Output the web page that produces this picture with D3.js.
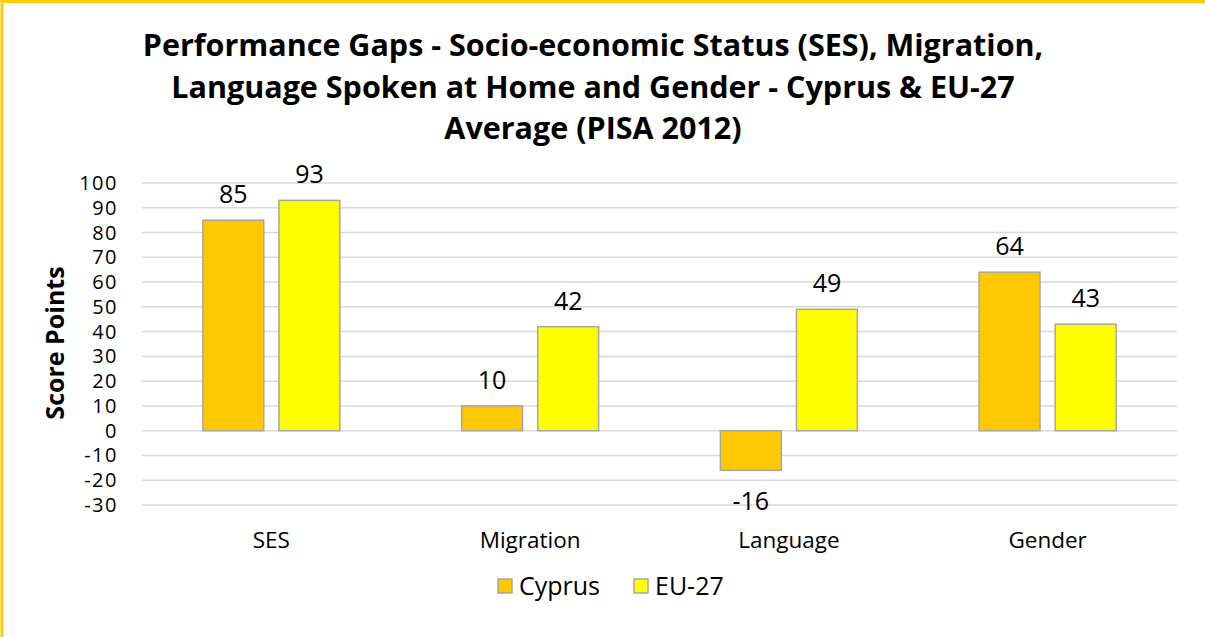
<!DOCTYPE html>
<html>
<head>
<meta charset="utf-8">
<script src="https://cdn.jsdelivr.net/npm/d3@7"></script>
<style>
  body { margin: 0; background: #fff; }
  svg text { font-family: "Open Sans", "Noto Sans", sans-serif; fill: #000; }
</style>
</head>
<body>
<svg id="chart"></svg>
<script>
const categories = ['SES', 'Migration', 'Language', 'Gender'];
const seriesNames = ['Cyprus', 'EU-27'];
const cyprusValues = [85, 10, -16, 64];
const euValues = [93, 42, 49, 43];
const yTicks = [100, 90, 80, 70, 60, 50, 40, 30, 20, 10, 0, -10, -20, -30];
const titleLines = [
  'Performance Gaps - Socio-economic Status (SES), Migration,',
  'Language Spoken at Home and Gender - Cyprus & EU-27',
  'Average (PISA 2012)',
];

const width = 1205;
const height = 637;
const colors = ['#FFC800', '#FFFF00'];
const plot = { left: 142, right: 1177, top: 183, bottom: 505 };

const svg = d3.select('#chart')
  .attr('width', width)
  .attr('height', height);

// outer frame (runs past the right and bottom edge)
svg.append('rect')
  .attr('x', 2).attr('y', 1.5)
  .attr('width', width + 10).attr('height', height + 10)
  .attr('fill', 'none')
  .attr('stroke', '#FFCC00')
  .attr('stroke-width', 3);

// title
svg.append('g').selectAll('text')
  .data(titleLines)
  .join('text')
  .attr('x', 593)
  .attr('y', (d, i) => 56 + i * 41.5)
  .attr('text-anchor', 'middle')
  .attr('font-size', 30.5)
  .attr('font-weight', 'bold')
  .text(d => d);

const x = d3.scaleBand()
  .domain(categories)
  .range([plot.left, plot.right]);

const y = d3.scaleLinear()
  .domain([-30, 100])
  .range([plot.bottom, plot.top]);

const x1 = d3.scaleBand()
  .domain(seriesNames)
  .range([0, x.bandwidth()])
  .paddingInner(0.2)
  .paddingOuter(0.8);

// gridlines
svg.append('g').selectAll('line')
  .data(yTicks)
  .join('line')
  .attr('x1', plot.left).attr('x2', plot.right)
  .attr('y1', d => y(d)).attr('y2', d => y(d))
  .attr('stroke', '#D9D9D9')
  .attr('stroke-width', 1.5);

// y tick labels
svg.append('g').selectAll('text')
  .data(yTicks)
  .join('text')
  .attr('x', 118)
  .attr('y', d => y(d))
  .attr('dy', '0.35em')
  .attr('text-anchor', 'end')
  .attr('font-size', 20)
  .attr('letter-spacing', 1.5)
  .text(d => d);

// y axis title
svg.append('text')
  .attr('transform', 'translate(64, 343) rotate(-90)')
  .attr('text-anchor', 'middle')
  .attr('font-size', 25)
  .attr('font-weight', 'bold')
  .text('Score Points');

const rows = categories.map((c, i) => ({
  category: c,
  values: [
    { series: seriesNames[0], value: cyprusValues[i], color: colors[0] },
    { series: seriesNames[1], value: euValues[i], color: colors[1] },
  ],
}));

const groups = svg.append('g').selectAll('g')
  .data(rows)
  .join('g')
  .attr('transform', d => `translate(${x(d.category)},0)`);

groups.selectAll('rect')
  .data(d => d.values)
  .join('rect')
  .attr('x', d => x1(d.series))
  .attr('width', x1.bandwidth())
  .attr('y', d => y(Math.max(0, d.value)))
  .attr('height', d => Math.abs(y(d.value) - y(0)))
  .attr('fill', d => d.color)
  .attr('stroke', '#A6A6A6')
  .attr('stroke-width', 1.5);

groups.selectAll('text')
  .data(d => d.values)
  .join('text')
  .attr('x', d => x1(d.series) + x1.bandwidth() / 2)
  .attr('y', d => (d.value >= 0 ? y(d.value) - 17 : y(d.value) + 40))
  .attr('text-anchor', 'middle')
  .attr('font-size', 25)
  .text(d => d.value);

// category labels
svg.append('g').selectAll('text')
  .data(categories)
  .join('text')
  .attr('x', d => x(d) + x.bandwidth() / 2)
  .attr('y', 548)
  .attr('text-anchor', 'middle')
  .attr('font-size', 22.5)
  .text(d => d);

// legend
const legendX = [498, 634];
const legend = svg.append('g').selectAll('g')
  .data(seriesNames)
  .join('g')
  .attr('transform', (d, i) => `translate(${legendX[i]}, 579)`);

legend.append('rect')
  .attr('width', 14).attr('height', 14)
  .attr('fill', (d, i) => colors[i])
  .attr('stroke', '#A6A6A6')
  .attr('stroke-width', 1.5);

legend.append('text')
  .attr('x', 21)
  .attr('y', 16)
  .attr('font-size', 25)
  .text(d => d);
</script>
</body>
</html>
